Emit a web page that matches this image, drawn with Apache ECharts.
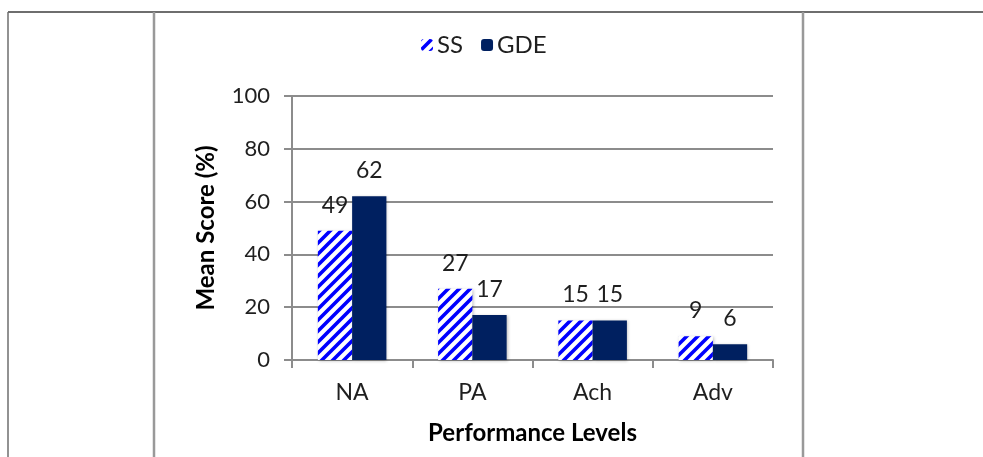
<!DOCTYPE html>
<html>
<head>
<meta charset="utf-8">
<script src="https://cdn.jsdelivr.net/npm/echarts@6/dist/echarts.min.js"></script>
<style>
  html, body { margin: 0; padding: 0; background: #fff; }
  #chart { width: 983px; height: 457px; }
</style>
</head>
<body>
<div id="chart"></div>
<script>
// Performance levels and mean scores (%) per group
const categories = ['NA', 'PA', 'Ach', 'Adv'];
const ssScores = [49, 27, 15, 9];
const gdeScores = [62, 17, 15, 6];
const yTicks = [0, 20, 40, 60, 80, 100];

const FONT = 'Lato, "Open Sans", sans-serif';
const AXIS_GRAY = '#8c8c8c';

// Diagonal blue hatch tile for the SS bars
function hatchTile() {
  const size = 11;
  const c = document.createElement('canvas');
  c.width = size; c.height = size;
  const ctx = c.getContext('2d');
  ctx.fillStyle = '#ffffff';
  ctx.fillRect(0, 0, size, size);
  ctx.strokeStyle = '#0000ff';
  ctx.lineWidth = 3.6;
  ctx.lineCap = 'square';
  for (let k = -1; k <= 1; k++) {
    ctx.beginPath();
    ctx.moveTo(k * size - 2, size + 2);
    ctx.lineTo(k * size + size + 2, -2);
    ctx.stroke();
  }
  return c;
}

const chart = echarts.init(document.getElementById('chart'), null, { renderer: 'canvas' });

const barShadow = {
  shadowBlur: 3,
  shadowColor: 'rgba(0,0,0,0.25)',
  shadowOffsetX: 1,
  shadowOffsetY: 1
};

const valueLabel = {
  show: true,
  position: 'top',
  distance: 14,
  fontFamily: FONT,
  fontSize: 23,
  color: '#1f1f1f'
};

chart.setOption({
  animation: false,
  backgroundColor: '#ffffff',
  textStyle: { fontFamily: FONT },
  legend: {
    left: 416,
    top: 28,
    itemWidth: 12,
    itemHeight: 12,
    itemGap: 18,
    textStyle: { fontFamily: FONT, fontSize: 24, color: '#1f1f1f', padding: [0, 0, 0, -1] },
    data: ['SS', 'GDE']
  },
  grid: { left: 292, right: 210, top: 96, bottom: 97, containLabel: false },
  xAxis: {
    type: 'category',
    data: categories,
    name: 'Performance Levels',
    nameLocation: 'middle',
    nameGap: 61,
    nameTextStyle: { fontFamily: FONT, fontSize: 24, fontWeight: 'bold', color: '#000' },
    axisLine: { lineStyle: { color: AXIS_GRAY, width: 2 } },
    axisTick: { show: true, alignWithLabel: false, length: 8, lineStyle: { color: AXIS_GRAY, width: 2 } },
    axisLabel: { margin: 21, fontFamily: FONT, fontSize: 23, color: '#1f1f1f' },
    splitLine: { show: false }
  },
  yAxis: {
    type: 'value',
    min: yTicks[0],
    max: yTicks[yTicks.length - 1],
    interval: yTicks[1] - yTicks[0],
    name: 'Mean Score (%)',
    nameLocation: 'middle',
    nameGap: 74,
    nameRotate: 90,
    nameTextStyle: { fontFamily: FONT, fontSize: 24, fontWeight: 'bold', color: '#000' },
    axisLine: { show: true, lineStyle: { color: AXIS_GRAY, width: 2 } },
    axisTick: { show: true, length: 8, lineStyle: { color: AXIS_GRAY, width: 2 } },
    axisLabel: { margin: 22, fontFamily: FONT, fontSize: 22, color: '#1f1f1f' },
    splitLine: { show: true, lineStyle: { color: AXIS_GRAY, width: 2 } }
  },
  series: [
    {
      name: 'SS',
      type: 'bar',
      data: ssScores,
      barGap: '0%',
      barCategoryGap: '43%',
      itemStyle: Object.assign({ color: { image: hatchTile(), repeat: 'repeat' } }, barShadow),
      label: valueLabel
    },
    {
      name: 'GDE',
      type: 'bar',
      data: gdeScores,
      barGap: '0%',
      barCategoryGap: '43%',
      itemStyle: Object.assign({ color: '#002060' }, barShadow),
      label: valueLabel
    }
  ],
  // Surrounding table rules
  graphic: [
    { type: 'line', silent: true, shape: { x1: 8, y1: 12, x2: 983, y2: 12 }, style: { stroke: '#6e6e6e', lineWidth: 2 } },
    { type: 'line', silent: true, shape: { x1: 8, y1: 12, x2: 8, y2: 457 }, style: { stroke: '#6e6e6e', lineWidth: 1.5 } },
    { type: 'line', silent: true, shape: { x1: 154, y1: 12, x2: 154, y2: 457 }, style: { stroke: '#999999', lineWidth: 2.5 } },
    { type: 'line', silent: true, shape: { x1: 803, y1: 12, x2: 803, y2: 457 }, style: { stroke: '#999999', lineWidth: 2.5 } }
  ]
});
</script>
</body>
</html>
